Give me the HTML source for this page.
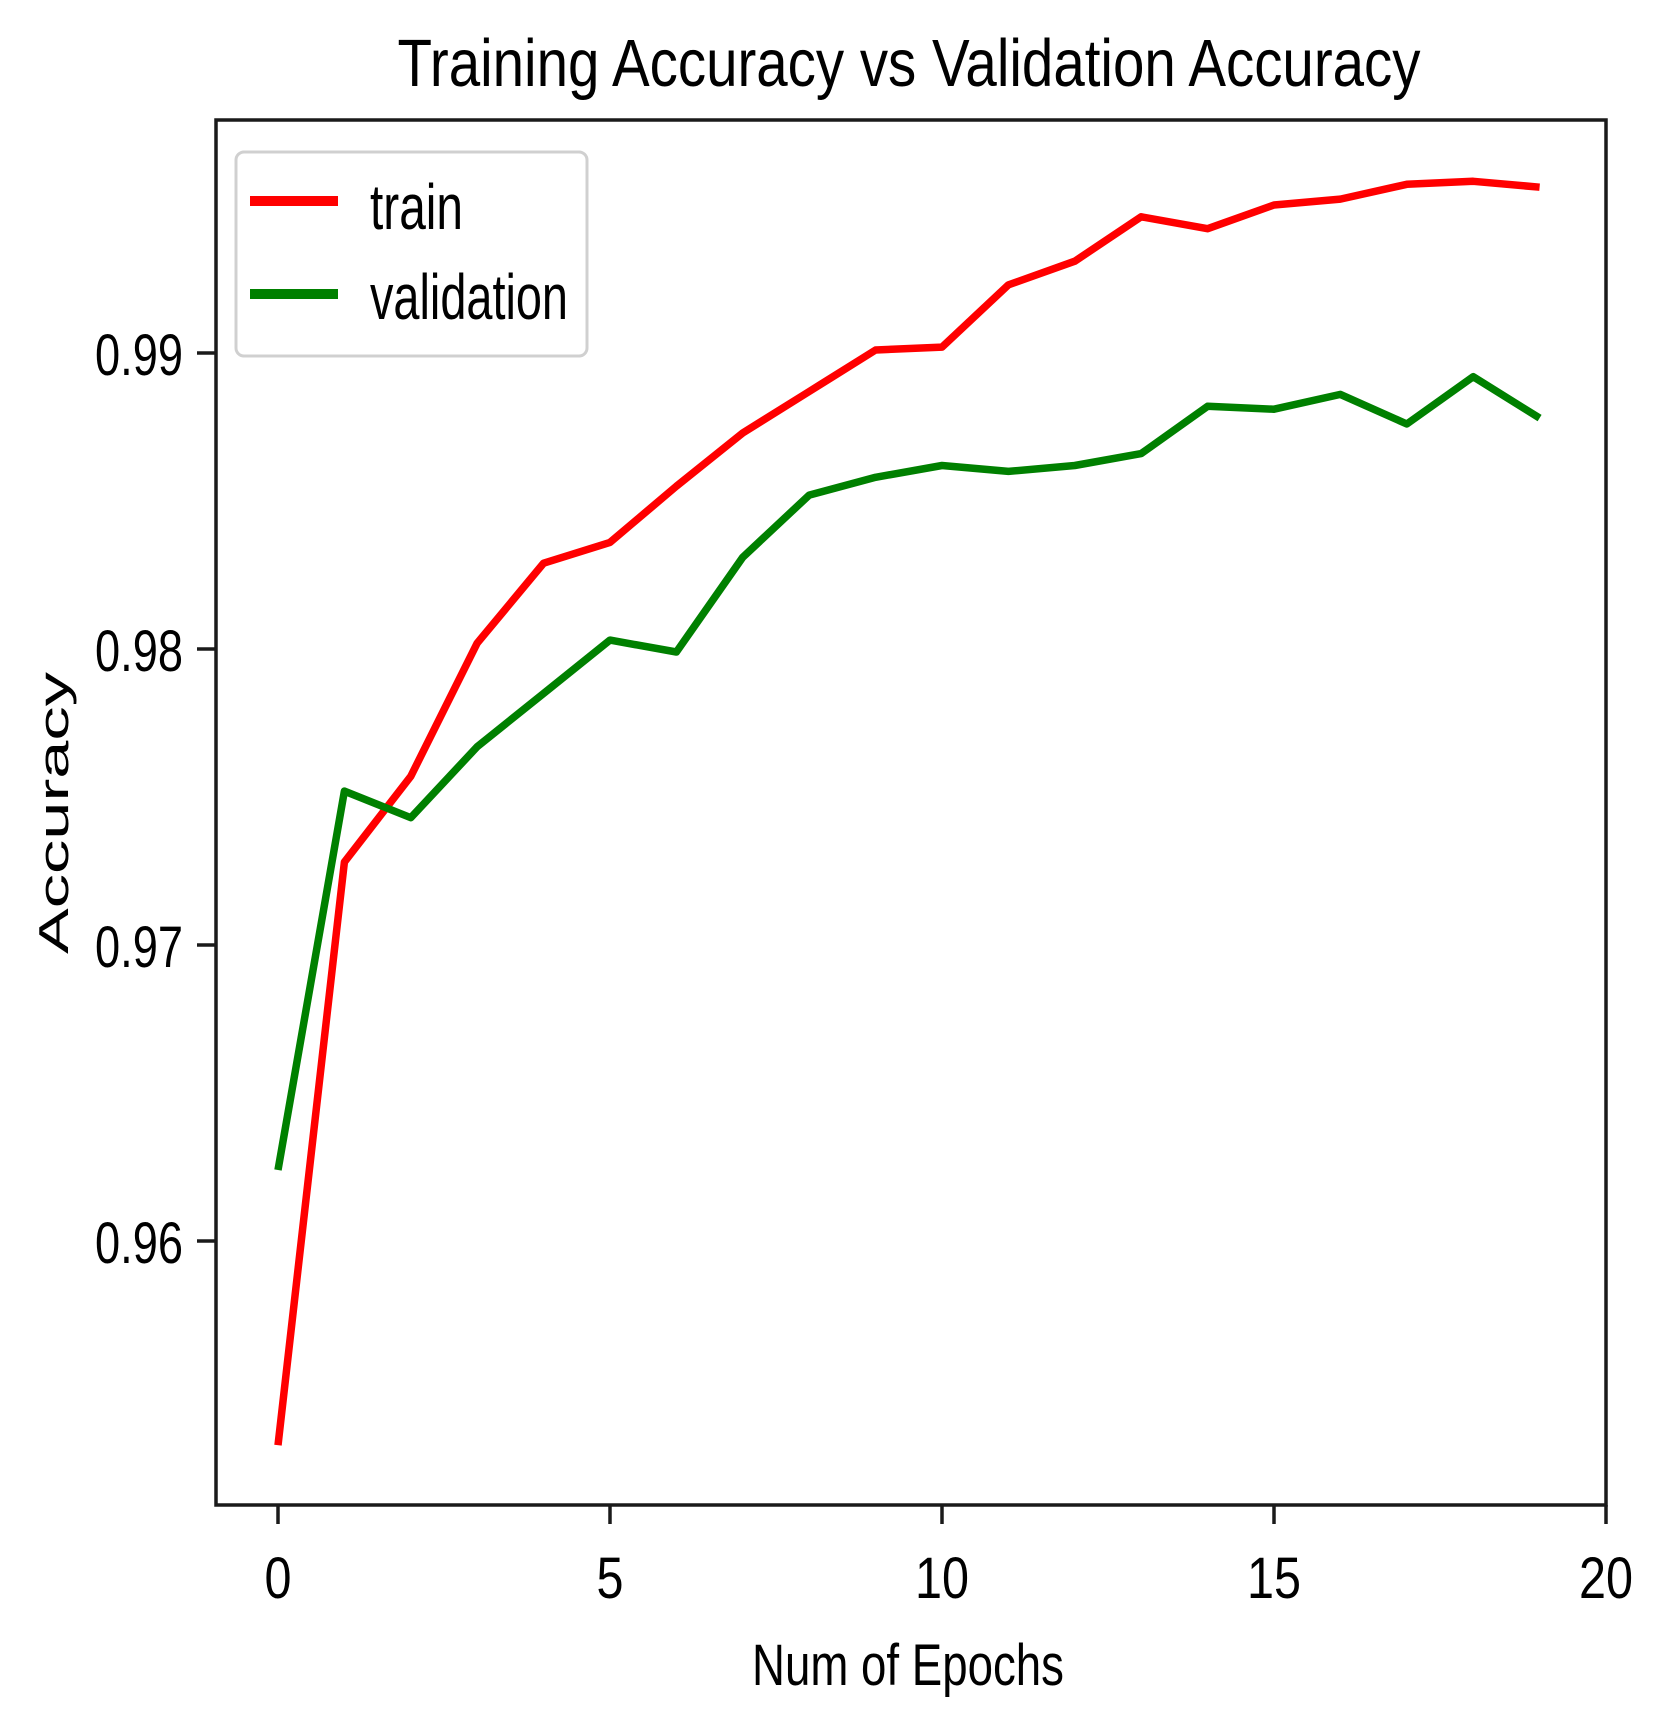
<!DOCTYPE html>
<html><head><meta charset="utf-8"><style>
html,body{margin:0;padding:0;background:#fff;}
svg{display:block;}
text{font-family:"Liberation Sans",sans-serif;fill:#000;}
</style></head><body>
<svg id="chart" width="1659" height="1735" viewBox="0 0 1659 1735" xmlns="http://www.w3.org/2000/svg">
<text x="909" y="86" font-size="67" text-anchor="middle" textLength="1023" lengthAdjust="spacingAndGlyphs">Training Accuracy vs Validation Accuracy</text>
<g id="plot"></g>
<rect x="216" y="120" width="1390" height="1385" fill="none" stroke="#1a1a1a" stroke-width="3.5"/>
<text x="908" y="1685" font-size="58" text-anchor="middle" textLength="312" lengthAdjust="spacingAndGlyphs">Num of Epochs</text>
<text x="0" y="0" font-size="42" text-anchor="middle" transform="translate(68,813) rotate(-90)" textLength="282" lengthAdjust="spacingAndGlyphs">Accuracy</text>
<g>
<rect x="236" y="152" width="351" height="204" rx="8" fill="#fff" stroke="#d0d0d0" stroke-width="3"/>
<line x1="250" y1="201" x2="338" y2="201" stroke="#ff0000" stroke-width="10"/>
<text x="370" y="229" font-size="64" textLength="93" lengthAdjust="spacingAndGlyphs">train</text>
<line x1="250" y1="294" x2="338" y2="294" stroke="#008000" stroke-width="10"/>
<text x="370" y="319" font-size="64" textLength="198" lengthAdjust="spacingAndGlyphs">validation</text>
</g>
</svg>
<script>
const epochs = [0,1,2,3,4,5,6,7,8,9,10,11,12,13,14,15,16,17,18,19];
const trainAcc = [0.9531,0.9728,0.9757,0.9802,0.9829,0.9836,0.9855,0.9873,0.9887,0.9901,0.9902,0.9923,0.9931,0.9946,0.9942,0.9950,0.9952,0.9957,0.9958,0.9956];
const valAcc = [0.9624,0.9752,0.9743,0.9767,0.9785,0.9803,0.9799,0.9831,0.9852,0.9858,0.9862,0.9860,0.9862,0.9866,0.9882,0.9881,0.9886,0.9876,0.9892,0.9878];
const xTicks = [0,5,10,15,20];
const yTicks = [0.96,0.97,0.98,0.99];
const yTickLabels = ["0.96","0.97","0.98","0.99"];

function xs(v){ return 278 + v*66.4; }
function ys(v){ return 353 + (0.99 - v)*29600; }
const NS = "http://www.w3.org/2000/svg";
const g = document.getElementById('plot');
function mk(tag, attrs){ const e=document.createElementNS(NS,tag); for(const k in attrs) e.setAttribute(k,attrs[k]); g.appendChild(e); return e; }

xTicks.forEach((t,i)=>{
  const l = mk('line',{x1:xs(t),x2:xs(t),y1:1505,y2:1524,stroke:'#1a1a1a','stroke-width':3.5});
  
  
  const tx = mk('text',{x:xs(t),y:1598,'font-size':58,'text-anchor':'middle'});
  
  
  tx.setAttribute('textLength', String(t).length*27);
  tx.setAttribute('lengthAdjust','spacingAndGlyphs');
  tx.textContent = t;
});
yTicks.forEach((t,i)=>{
  const l = mk('line',{x1:197,x2:216,y1:ys(t),y2:ys(t),stroke:'#1a1a1a','stroke-width':3.5});
  
  
  const tx = mk('text',{x:183,y:ys(t)+22,'font-size':58,'text-anchor':'end',textLength:88,lengthAdjust:'spacingAndGlyphs'});
  
  
  tx.textContent = yTickLabels[i];
});
function series(vals, color, name){
  const pts = vals.map((v,i)=>xs(epochs[i]).toFixed(1)+','+ys(v).toFixed(1)).join(' ');
  const p = mk('polyline',{points:pts,fill:'none',stroke:color,'stroke-width':7.5,'stroke-linejoin':'round'});
  
  
}
series(trainAcc,'#ff0000','train-line');
series(valAcc,'#008000','validation-line');
</script>
</body></html>
